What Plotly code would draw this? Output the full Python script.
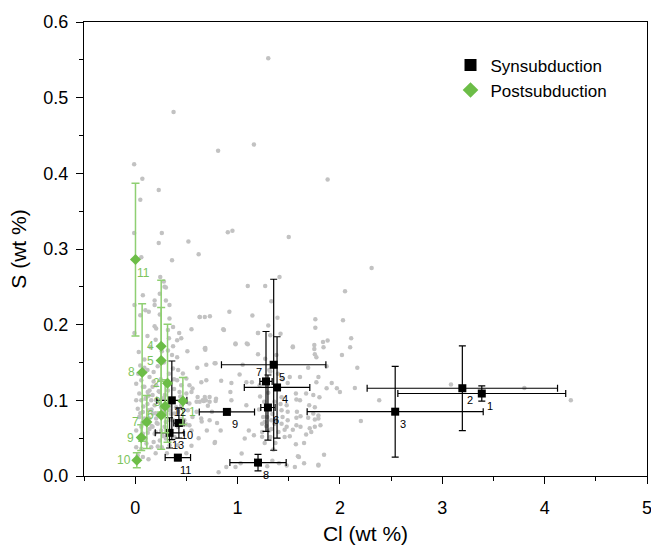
import plotly.graph_objects as go

# ---------------- data ----------------
# background compilation (gray dots): Cl (wt %), S (wt %)
bg_cl = [1.30, 0.375, 0.81, 1.16, 0.07, 0.23, 0.05, 1.88, -0.01, -0.01, 0.26, 0.23, 0.52, 0.62, 0.06, 0.36, 0.245, 0.28, 0.30,
         1.41, 1.10, 1.27, 2.05, 1.33, 0.92, 1.145, 0.73, 0.63, 1.39, 1.76, 1.76, 0.86, 1.30, 1.20, 1.42, 1.32, 1.88, 0.98, 1.09,
         1.84, 1.54, 1.75, 0.685, 2.31, 0.905, 0.95, 1.50,
         0.867, 1.20, 0.98, 1.10, 1.54, 1.75, 1.835, 0.685, 1.755, 1.77, 1.20, 1.38, 0.695, 0.785, 1.05, 1.69, 1.87, 1.32, 1.02,
         1.395, 1.61, 1.51, 1.79, 0.84, 0.94, 1.086, 1.14, 1.77, 1.92, 1.49, 1.216, 0.93, 1.30, 1.87, 1.97, 2.00, 1.67, 1.57,
         1.74, 1.43, 1.80, 0.94, 1.61, 1.575, 0.69, 0.63, 0.67, 0.71, 1.086, 1.48, 1.70, 1.755, 0.92, 1.43, 1.49, 1.58, 1.74,
         1.79, 0.645, 0.727, 1.25, 1.33, 1.44, 1.49, 1.575, 1.615, 1.69, 1.755, 1.79, 1.265, 1.24, 1.36, 1.43, 1.48, 1.575,
         1.615, 1.705, 1.755, 1.81, 0.835, 1.11, 1.46, 1.54, 1.72, 1.67, 1.24, 1.31, 1.16, 1.32, 1.51, 1.07, 1.46, 0.78, 1.265,
         1.57, 1.65, 1.04, 1.60, 1.845, 1.79, 1.56, 1.48, 0.815, 0.98,
         0.89, 1.03, 1.29, 1.34, 1.405, 1.65, 1.59, 1.79, 1.37, 0.776,
         2.146, 2.384, 2.205, 3.085, 3.802, 4.256, 2.03, 2.11, 2.10, 2.02, 2.17,
         0.075, -0.007, 0.10, 0.133, -0.007, 0.05, 0.19, 0.19, 0.24, 0.287, 0.30, 0.335, 0.24, 0.335, 0.19, 0.205, 0.32, 0.37,
         0.43, 0.33, 0.41, 0.45, 0.37, 0.51, 0.63, 0.68, 0.55, 0.68, 0.776, 0.607, 0.035, 0.09, 0.05, 0.09, 0.18, 0.14, 0.32,
         0.36, 0.41, 0.37, 0.42, 0.466, 0.50, 0.41, 0.45, 0.53, 0.56, 0.646, 0.695, 0.433, 0.50, 0.55, 0.61, 0.68, 0.727, 0.786,
         0.06, 0.09, 0.123, 0.17, 0.205, 0.11,
         0.01, 0.075, 0.14, 0.205, 0.24, 0.04, 0.10, 0.01, 0.157, 0.19, 0.025, 0.075, 0.133, 0.17, 0.04, 0.09, 0.14, 0.205,
         0.22, 0.17, 0.06, 0.01, 0.075, 0.123, 0.19, 0.254, 0.287, 0.30, 0.37, 0.385, 0.30, 0.336, 0.254, 0.40, 0.45, 0.53,
         0.60, 0.66, 0.727, 0.79, 0.515, 0.56, 0.48, 0.53, 0.417, 0.385, 0.30, 0.24, 0.11, 0.06, 0.01, 0.157, 0.22, 0.025,
         0.075, 0.336, 0.417,
         0.12, 0.16, 0.20, 0.26, 0.33, 0.07, 0.14, 0.20, 0.27, 0.33, 0.22, 0.28, 0.34, 0.42, 0.45, 0.50, 0.55, 0.44, 0.38,
         0.30, 0.25, 0.18, 0.12, 0.22, 0.28, 0.33, 0.26, 0.15, 0.20, 0.12, 0.06, 0.03, 0.10, 0.18, 0.26, 0.31, 0.20, 0.13,
         0.60, 0.65, 0.70, 0.62, 0.55, 0.50, 0.75, 0.80,
         1.22, 1.26, 1.34, 1.38, 1.42, 1.28, 1.24, 1.35, 1.40, 1.31, 1.27, 1.44, 1.21, 1.36, 1.29, 1.33,
         0.08, 0.13, 0.17, 0.23, 0.29, 0.35, 0.40, 0.05, 0.11, 0.16, 0.21, 0.27, 0.32, 0.38]
bg_s = [0.552, 0.481, 0.430, 0.438, 0.393, 0.378, 0.365, 0.392, 0.412, 0.321, 0.321, 0.308, 0.310, 0.293, 0.289, 0.285, 0.263, 0.257, 0.249,
        0.263, 0.251, 0.251, 0.244, 0.231, 0.217, 0.212, 0.211, 0.210, 0.209, 0.207, 0.196, 0.194, 0.199, 0.189, 0.188, 0.186, 0.179, 0.175, 0.175,
        0.170, 0.170, 0.168, 0.169, 0.275, 0.322, 0.324, 0.316,
        0.193, 0.189, 0.174, 0.174, 0.171, 0.173, 0.177, 0.167, 0.161, 0.157, 0.161, 0.160, 0.147, 0.149, 0.147, 0.143, 0.145, 0.138, 0.134,
        0.135, 0.131, 0.131, 0.131, 0.126, 0.123, 0.124, 0.124, 0.124, 0.123, 0.123, 0.120, 0.111, 0.110, 0.116, 0.116, 0.111, 0.109, 0.109,
        0.107, 0.104, 0.104, 0.100, 0.100, 0.101, 0.100, 0.098, 0.099, 0.093, 0.0935, 0.0935, 0.0935, 0.091, 0.087, 0.087, 0.085, 0.085, 0.0825,
        0.080, 0.076, 0.0737, 0.078, 0.0737, 0.078, 0.0737, 0.077, 0.079, 0.077, 0.0746, 0.076, 0.0714, 0.069, 0.069, 0.069, 0.065, 0.067,
        0.065, 0.063, 0.065, 0.067, 0.060, 0.060, 0.061, 0.061, 0.058, 0.055, 0.058, 0.060, 0.054, 0.0516, 0.0525, 0.0495, 0.0516, 0.045, 0.0437,
        0.042, 0.0437, 0.0296, 0.025, 0.028, 0.014, 0.012, 0.014, 0.005, 0.012,
        0.012, 0.017, 0.013, 0.020, 0.017, 0.017, 0.026, 0.015, 0.0437, 0.0437,
        0.1164, 0.100, 0.0728, 0.121, 0.1164, 0.100, 0.206, 0.182, 0.170, 0.160, 0.143,
        0.239, 0.226, 0.219, 0.217, 0.189, 0.2125, 0.232, 0.226, 0.241, 0.250, 0.232, 0.226, 0.2135, 0.208, 0.198, 0.195, 0.193, 0.197,
        0.189, 0.182, 0.1795, 0.182, 0.1716, 0.165, 0.210, 0.210, 0.194, 0.1685, 0.149, 0.143, 0.164, 0.154, 0.146, 0.143, 0.1376, 0.131, 0.166,
        0.160, 0.157, 0.142, 0.140, 0.1355, 0.129, 0.1266, 0.120, 0.120, 0.1156, 0.124, 0.1266, 0.111, 0.109, 0.111, 0.1045, 0.1045, 0.098, 0.099,
        0.1266, 0.118, 0.111, 0.107, 0.100, 0.1045,
        0.122, 0.118, 0.113, 0.120, 0.111, 0.109, 0.102, 0.100, 0.100, 0.0935, 0.089, 0.0847, 0.087, 0.0825, 0.078, 0.076, 0.076, 0.076,
        0.069, 0.065, 0.065, 0.060, 0.056, 0.057, 0.056, 0.060, 0.065, 0.0714, 0.0737, 0.0825, 0.0825, 0.087, 0.091, 0.091, 0.0935, 0.0958,
        0.098, 0.100, 0.1045, 0.102, 0.087, 0.078, 0.0737, 0.067, 0.065, 0.0516, 0.0495, 0.047, 0.043, 0.036, 0.038, 0.038, 0.039, 0.027,
        0.025, 0.0406, 0.0406,
        0.095, 0.088, 0.083, 0.078, 0.074, 0.070, 0.062, 0.058, 0.053, 0.058, 0.098, 0.103, 0.093, 0.085, 0.075, 0.068, 0.060, 0.105, 0.115,
        0.122, 0.128, 0.125, 0.140, 0.145, 0.150, 0.135, 0.165, 0.170, 0.180, 0.185, 0.100, 0.135, 0.050, 0.045, 0.038, 0.030, 0.030, 0.022,
        0.085, 0.072, 0.060, 0.050, 0.040, 0.030, 0.085, 0.070,
        0.105, 0.098, 0.082, 0.074, 0.095, 0.066, 0.052, 0.035, 0.058, 0.140, 0.155, 0.128, 0.088, 0.098, 0.078, 0.062,
        0.092, 0.106, 0.118, 0.112, 0.107, 0.082, 0.068, 0.083, 0.072, 0.066, 0.070, 0.088, 0.113, 0.128]

# Synsubduction samples
syn_id = ["1", "2", "3", "4", "5", "6", "7", "8", "9", "10", "11", "12", "13"]
syn_cl = [3.386, 3.196, 2.54, 1.386, 1.353, 1.297, 1.278, 1.20, 0.896, 0.427, 0.417, 0.358, 0.336]
syn_cl_err = [0.82, 0.93, 0.86, 0.32, 0.51, 0.07, 0.06, 0.275, 0.27, 0.05, 0.124, 0.147, 0.14]
syn_s = [0.109, 0.116, 0.085, 0.117, 0.147, 0.0905, 0.125, 0.0177, 0.0847, 0.070, 0.0243, 0.100, 0.057]
syn_s_err = [0.010, 0.056, 0.060, 0.067, 0.113, 0.043, 0.066, 0.011, 0.0, 0.02, 0.004, 0.052, 0.02]

# Postsubduction samples
post_id = ["1", "2", "3", "4", "5", "6", "7", "8", "9", "10", "11"]
post_cl = [0.466, 0.316, 0.293, 0.254, 0.254, 0.254, 0.114, 0.068, 0.059, 0.016, 0.003]
post_s = [0.0992, 0.1226, 0.0922, 0.1716, 0.1526, 0.0803, 0.0714, 0.1368, 0.0508, 0.0208, 0.286]
post_s_err = [0.031, 0.078, 0.035, 0.087, 0.070, 0.045, 0.035, 0.091, 0.017, 0.010, 0.101]

# ---------------- styles ----------------
FONT = "Arial, Liberation Sans, sans-serif"
GREEN = "#6cbd47"
GREEN_ERR = "#8fcf72"
GREEN_TXT = "#7cc45c"

# label offsets (pixels) for sample numbers
syn_shift = {"7": (-7, 9)}
post_shift = {"1": (10, -11), "3": (-8, 4), "11": (8, -13), "10": (-13, 0)}

fig = go.Figure()

fig.add_trace(go.Scatter(
    x=bg_cl, y=bg_s, mode="markers", showlegend=False, hoverinfo="skip",
    marker=dict(color="#c2c2c2", size=4.5, line=dict(width=0))))

fig.add_trace(go.Scatter(
    x=syn_cl, y=syn_s, mode="markers", name="Synsubduction",
    marker=dict(symbol="square", color="black", size=8),
    error_x=dict(type="data", array=syn_cl_err, color="black", thickness=1.2, width=3.5),
    error_y=dict(type="data", array=syn_s_err, color="black", thickness=1.2, width=3.5)))

fig.add_trace(go.Scatter(
    x=post_cl, y=post_s, mode="markers", name="Postsubduction",
    marker=dict(symbol="diamond", color=GREEN, size=8.5),
    error_y=dict(type="data", array=post_s_err, color=GREEN_ERR, thickness=1.5, width=4)))

annotations = []
for lab, x, y in zip(syn_id, syn_cl, syn_s):
    dx, dy = syn_shift.get(lab, (8, -12))
    annotations.append(dict(x=x, y=y, text=lab, showarrow=False, xshift=dx, yshift=dy,
                            font=dict(family=FONT, size=11, color="black")))
for lab, x, y in zip(post_id, post_cl, post_s):
    dx, dy = post_shift.get(lab, (-11, 0))
    annotations.append(dict(x=x, y=y, text=lab, showarrow=False, xshift=dx, yshift=dy,
                            font=dict(family=FONT, size=12, color=GREEN_TXT)))

axis_common = dict(showline=True, linecolor="black", linewidth=1.3, mirror=True,
                   ticks="outside", ticklen=7, tickwidth=1.3, tickcolor="black",
                   showgrid=False, zeroline=False, automargin=False,
                   ticklabeloverflow="allow",
                   tickfont=dict(family=FONT, size=18, color="black"))

fig.update_layout(
    width=651, height=545,
    margin=dict(l=84, r=4, t=22, b=69),
    paper_bgcolor="white", plot_bgcolor="white",
    font=dict(family=FONT, color="black"),
    annotations=annotations,
    legend=dict(x=0.651, y=0.944, xanchor="left", yanchor="top",
                bgcolor="rgba(0,0,0,0)", font=dict(family=FONT, size=17, color="black"),
                tracegroupgap=0, itemsizing="constant"),
    xaxis=dict(range=[-0.5, 5], tick0=0, dtick=1, ticklabelstandoff=8,
               minor=dict(dtick=0.5, tick0=0, ticks="outside", ticklen=4, tickwidth=1.3, tickcolor="black"),
               title=dict(text="Cl (wt %)", font=dict(family=FONT, size=21), standoff=12),
               **axis_common),
    yaxis=dict(range=[0, 0.6], dtick=0.1, tickformat=".1f", ticklabelstandoff=4,
               minor=dict(dtick=0.05, ticks="outside", ticklen=4, tickwidth=1.3, tickcolor="black"),
               title=dict(text="S (wt %)", font=dict(family=FONT, size=21), standoff=10),
               **axis_common),
)

# remove the page's default body margin and scrollbars so the figure fills the window exactly
fig.write_html("out.html", config={"displayModeBar": False},
               post_script=("document.documentElement.style.overflow='hidden';"
                            "document.body.style.margin='0px';document.body.style.overflow='hidden';"))
